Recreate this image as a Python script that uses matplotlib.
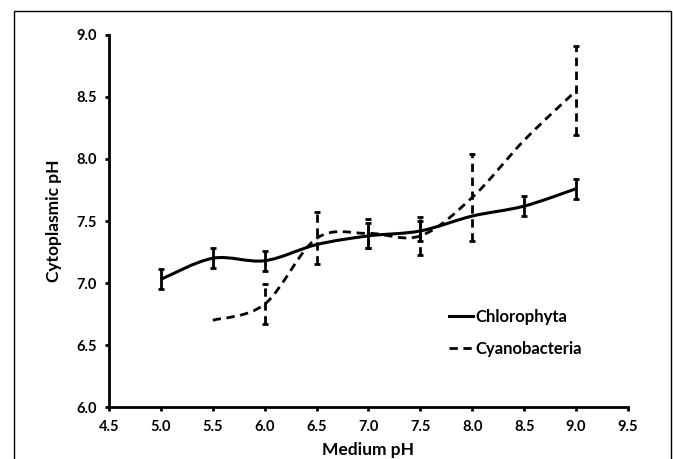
import matplotlib
matplotlib.use("Agg")
import matplotlib.pyplot as plt
from matplotlib.path import Path
from matplotlib.patches import PathPatch, Rectangle
from matplotlib.lines import Line2D
import numpy as np

plt.rcParams['font.family'] = ['Lato', 'DejaVu Sans']
plt.rcParams['font.weight'] = 'bold'

chl_x = [5.0, 5.5, 6.0, 6.5, 7.0, 7.5, 8.0, 8.5, 9.0]
chl_y = [7.03, 7.20, 7.18, 7.31, 7.38, 7.42, 7.54, 7.62, 7.76]
chl_err = [0.08, 0.08, 0.08, 0.0, 0.1, 0.08, 0.0, 0.08, 0.08]

cya_x = [5.5, 6.0, 6.5, 7.0, 7.5, 8.0, 8.5, 9.0]
cya_y = [6.70, 6.83, 7.36, 7.40, 7.38, 7.69, 8.15, 8.55]
cya_err = [0.0, 0.16, 0.21, 0.12, 0.15, 0.35, 0.0, 0.36]

x_ticks = [4.5, 5.0, 5.5, 6.0, 6.5, 7.0, 7.5, 8.0, 8.5, 9.0, 9.5]
y_ticks = [6.0, 6.5, 7.0, 7.5, 8.0, 8.5, 9.0]


def smooth_path(xs, ys):
    # catmull-rom through the points, as bezier segments
    p = np.column_stack([xs, ys])
    verts = [p[0]]
    codes = [Path.MOVETO]
    n = len(p)
    for i in range(n - 1):
        p0 = p[i - 1] if i > 0 else p[i]
        p1 = p[i]
        p2 = p[i + 1]
        p3 = p[i + 2] if i + 2 < n else p[i + 1]
        c1 = p1 + (p2 - p0) / 6.0
        c2 = p2 - (p3 - p1) / 6.0
        verts += [c1, c2, p2]
        codes += [Path.CURVE4] * 3
    return Path(verts, codes)


def with_err(xs, ys, errs):
    xs, ys, errs = np.array(xs), np.array(ys), np.array(errs)
    m = errs > 0
    return xs[m], ys[m], errs[m]


fig = plt.figure(figsize=(6.73, 4.59), dpi=100)
ax = fig.add_axes([0.162, 0.113, 0.771, 0.811])

ax.add_patch(PathPatch(smooth_path(chl_x, chl_y), fill=False, lw=2.2,
                       color='black', capstyle='butt'))
ax.add_patch(PathPatch(smooth_path(cya_x, cya_y), fill=False, lw=2.0,
                       color='black', linestyle=(0, (3, 2))))

ex, ey, ee = with_err(chl_x, chl_y, chl_err)
ax.errorbar(ex, ey, yerr=ee, fmt='none', ecolor='black',
            elinewidth=2.0, capsize=2, capthick=2.0)
ex, ey, ee = with_err(cya_x, cya_y, cya_err)
e2 = ax.errorbar(ex, ey, yerr=ee, fmt='none', ecolor='black',
                 elinewidth=2.0, capsize=2, capthick=2.0)
e2[2][0].set_linestyle((0, (3, 2)))

ax.set_xlim(4.5, 9.5)
ax.set_ylim(6.0, 9.0)
ax.set_xticks(x_ticks)
ax.set_yticks(y_ticks)
ax.set_xticklabels(['%.1f' % v for v in x_ticks])
ax.set_yticklabels(['%.1f' % v for v in y_ticks])
ax.tick_params(direction='out', length=3, width=2, labelsize=10.5, pad=6)
for s in ['top', 'right']:
    ax.spines[s].set_visible(False)
for s in ['left', 'bottom']:
    ax.spines[s].set_linewidth(2)

ax.set_xlabel('Medium pH', fontsize=12.5, fontweight='bold', labelpad=6)
ax.set_ylabel('Cytoplasmic pH', fontsize=12.5, fontweight='bold', labelpad=10)

handles = [Line2D([], [], color='black', lw=2.2),
           Line2D([], [], color='black', lw=2.0, linestyle=(0, (3, 2)))]
ax.legend(handles, ['Chlorophyta', 'Cyanobacteria'], loc='upper left',
          bbox_to_anchor=(0.627, 0.305), frameon=False, fontsize=12,
          handlelength=1.4, handletextpad=0.15, labelspacing=1.0)

fig.patches.append(Rectangle((14 / 673, -0.05), 657 / 673, 1.05 - 11 / 459,
                             transform=fig.transFigure, fill=False,
                             edgecolor='black', lw=1.0))

fig.savefig('out.png', dpi=100)
